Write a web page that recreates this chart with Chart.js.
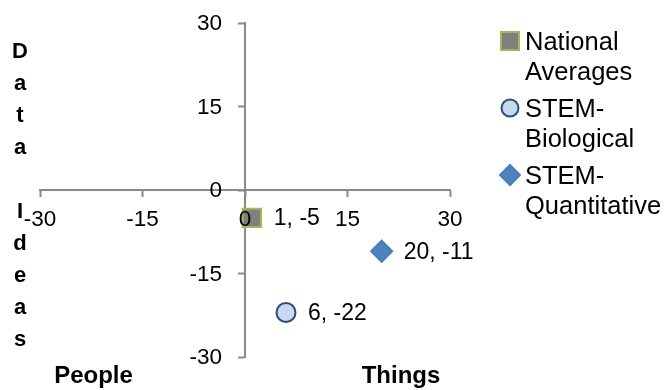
<!DOCTYPE html>
<html>
<head>
<meta charset="utf-8">
<script src="https://cdn.jsdelivr.net/npm/chart.js@4/dist/chart.umd.min.js"></script>
<style>
  html, body { margin: 0; padding: 0; background: #fff; }
  #wrap { position: relative; width: 666px; height: 390px; }
</style>
</head>
<body>
<div id="wrap"><canvas id="c" width="666" height="390"></canvas></div>
<script>
// Series and their scores on the two interest axes
const seriesNames = ['National Averages', 'STEM-Biological', 'STEM-Quantitative'];
const legendLines = [['National', 'Averages'], ['STEM-', 'Biological'], ['STEM-', 'Quantitative']];
const thingsScores = [1, 6, 20];      // horizontal: People (-) .. Things (+)
const dataScores = [-5, -22, -11];    // vertical: Ideas (-) .. Data (+)
const axisTicks = [-30, -15, 0, 15, 30];
const xTitles = ['People', 'Things'];
const yTitleLetters = ['D', 'a', 't', 'a', '', 'I', 'd', 'e', 'a', 's'];

// Marker styling per series
const markerShapes = ['rect', 'circle', 'rectRot'];
const markerFills = ['#7F7F7F', '#C6D9F1', '#4F81BD'];
const markerBorders = ['#9BBB59', '#2C4D75', '#4A7EBB'];
const markerRadii = [13, 9.5, 10.5];

const FONT = "'Liberation Sans', Arial, sans-serif";
const AXIS_GREY = '#898989';

const datasets = seriesNames.map((name, i) => ({
  label: name,
  data: [{ x: thingsScores[i], y: dataScores[i] }],
  pointStyle: markerShapes[i],
  pointRadius: markerRadii[i],
  pointBackgroundColor: markerFills[i],
  pointBorderColor: markerBorders[i],
  pointBorderWidth: 2,
  showLine: false
}));

function fixedTicks(axis) {
  axis.ticks = axisTicks.map(v => ({ value: v }));
}

// Legend marker drawn by hand so the wrapped labels can sit beside it
function drawMarker(ctx, shape, cx, cy, size, fill, stroke) {
  ctx.save();
  ctx.fillStyle = fill;
  ctx.strokeStyle = stroke;
  ctx.lineWidth = 2;
  ctx.beginPath();
  const h = size / 2;
  if (shape === 'rect') {
    ctx.rect(cx - h, cy - h, size, size);
  } else if (shape === 'circle') {
    ctx.arc(cx, cy, h, 0, Math.PI * 2);
  } else {
    ctx.moveTo(cx, cy - h);
    ctx.lineTo(cx + h, cy);
    ctx.lineTo(cx, cy + h);
    ctx.lineTo(cx - h, cy);
    ctx.closePath();
  }
  ctx.fill();
  ctx.stroke();
  ctx.restore();
}

const annotations = {
  id: 'annotations',
  afterDraw(chart) {
    const ctx = chart.ctx;
    const xs = chart.scales.x;
    const ys = chart.scales.y;
    ctx.save();
    ctx.fillStyle = '#000';

    // vertical-axis tick labels, set off to the left of the crossing axis
    ctx.font = `22.5px ${FONT}`;
    ctx.textAlign = 'right';
    ctx.textBaseline = 'middle';
    const labelRight = xs.getPixelForValue(0) - 23;
    axisTicks.forEach(v => ctx.fillText(String(v), labelRight, ys.getPixelForValue(v) + 1));

    // value labels to the right of each marker
    ctx.font = `23px ${FONT}`;
    ctx.textAlign = 'left';
    chart.data.datasets.forEach((ds, i) => {
      const el = chart.getDatasetMeta(i).data[0];
      const p = ds.data[0];
      ctx.fillText(`${p.x}, ${p.y}`, el.x + 22, el.y + 1);
    });

    // axis titles
    ctx.font = `bold 24px ${FONT}`;
    ctx.textAlign = 'center';
    ctx.textBaseline = 'alphabetic';
    ctx.fillText(xTitles[0], 93.5, 383);
    ctx.fillText(xTitles[1], 401, 383);

    ctx.font = `bold 22px ${FONT}`;
    yTitleLetters.forEach((ch, k) => {
      if (ch) ctx.fillText(ch, 20, 58 + 32 * k);
    });

    // legend
    ctx.font = `25.5px ${FONT}`;
    ctx.textAlign = 'left';
    legendLines.forEach((lines, i) => {
      const base = 50 + 67 * i;
      const size = [18, 17, 20][i];
      drawMarker(ctx, markerShapes[i], 510, base - 9, size, markerFills[i], markerBorders[i]);
      lines.forEach((line, j) => ctx.fillText(line, 525, base + 30 * j));
    });
    ctx.restore();
  }
};

new Chart(document.getElementById('c'), {
  type: 'scatter',
  data: { datasets },
  options: {
    responsive: false,
    animation: false,
    layout: { padding: { left: 40, right: 216, top: 23, bottom: 33 } },
    plugins: { legend: { display: false }, tooltip: { enabled: false } },
    scales: {
      x: {
        type: 'linear',
        position: { y: 0 },
        min: -30,
        max: 30,
        afterBuildTicks: fixedTicks,
        grid: { drawOnChartArea: false, drawTicks: true, tickLength: 6, tickWidth: 2, tickColor: AXIS_GREY },
        border: { display: true, color: AXIS_GREY, width: 2 },
        ticks: { font: { family: FONT, size: 22.5 }, color: '#000', padding: 10, maxRotation: 0, autoSkip: false, z: 1 }
      },
      y: {
        type: 'linear',
        position: { x: 0 },
        min: -30,
        max: 30,
        afterBuildTicks: fixedTicks,
        grid: { drawOnChartArea: false, drawTicks: true, tickLength: 6, tickWidth: 2, tickColor: AXIS_GREY },
        border: { display: true, color: AXIS_GREY, width: 2 },
        ticks: { display: false }
      }
    }
  },
  plugins: [annotations]
});
</script>
</body>
</html>
